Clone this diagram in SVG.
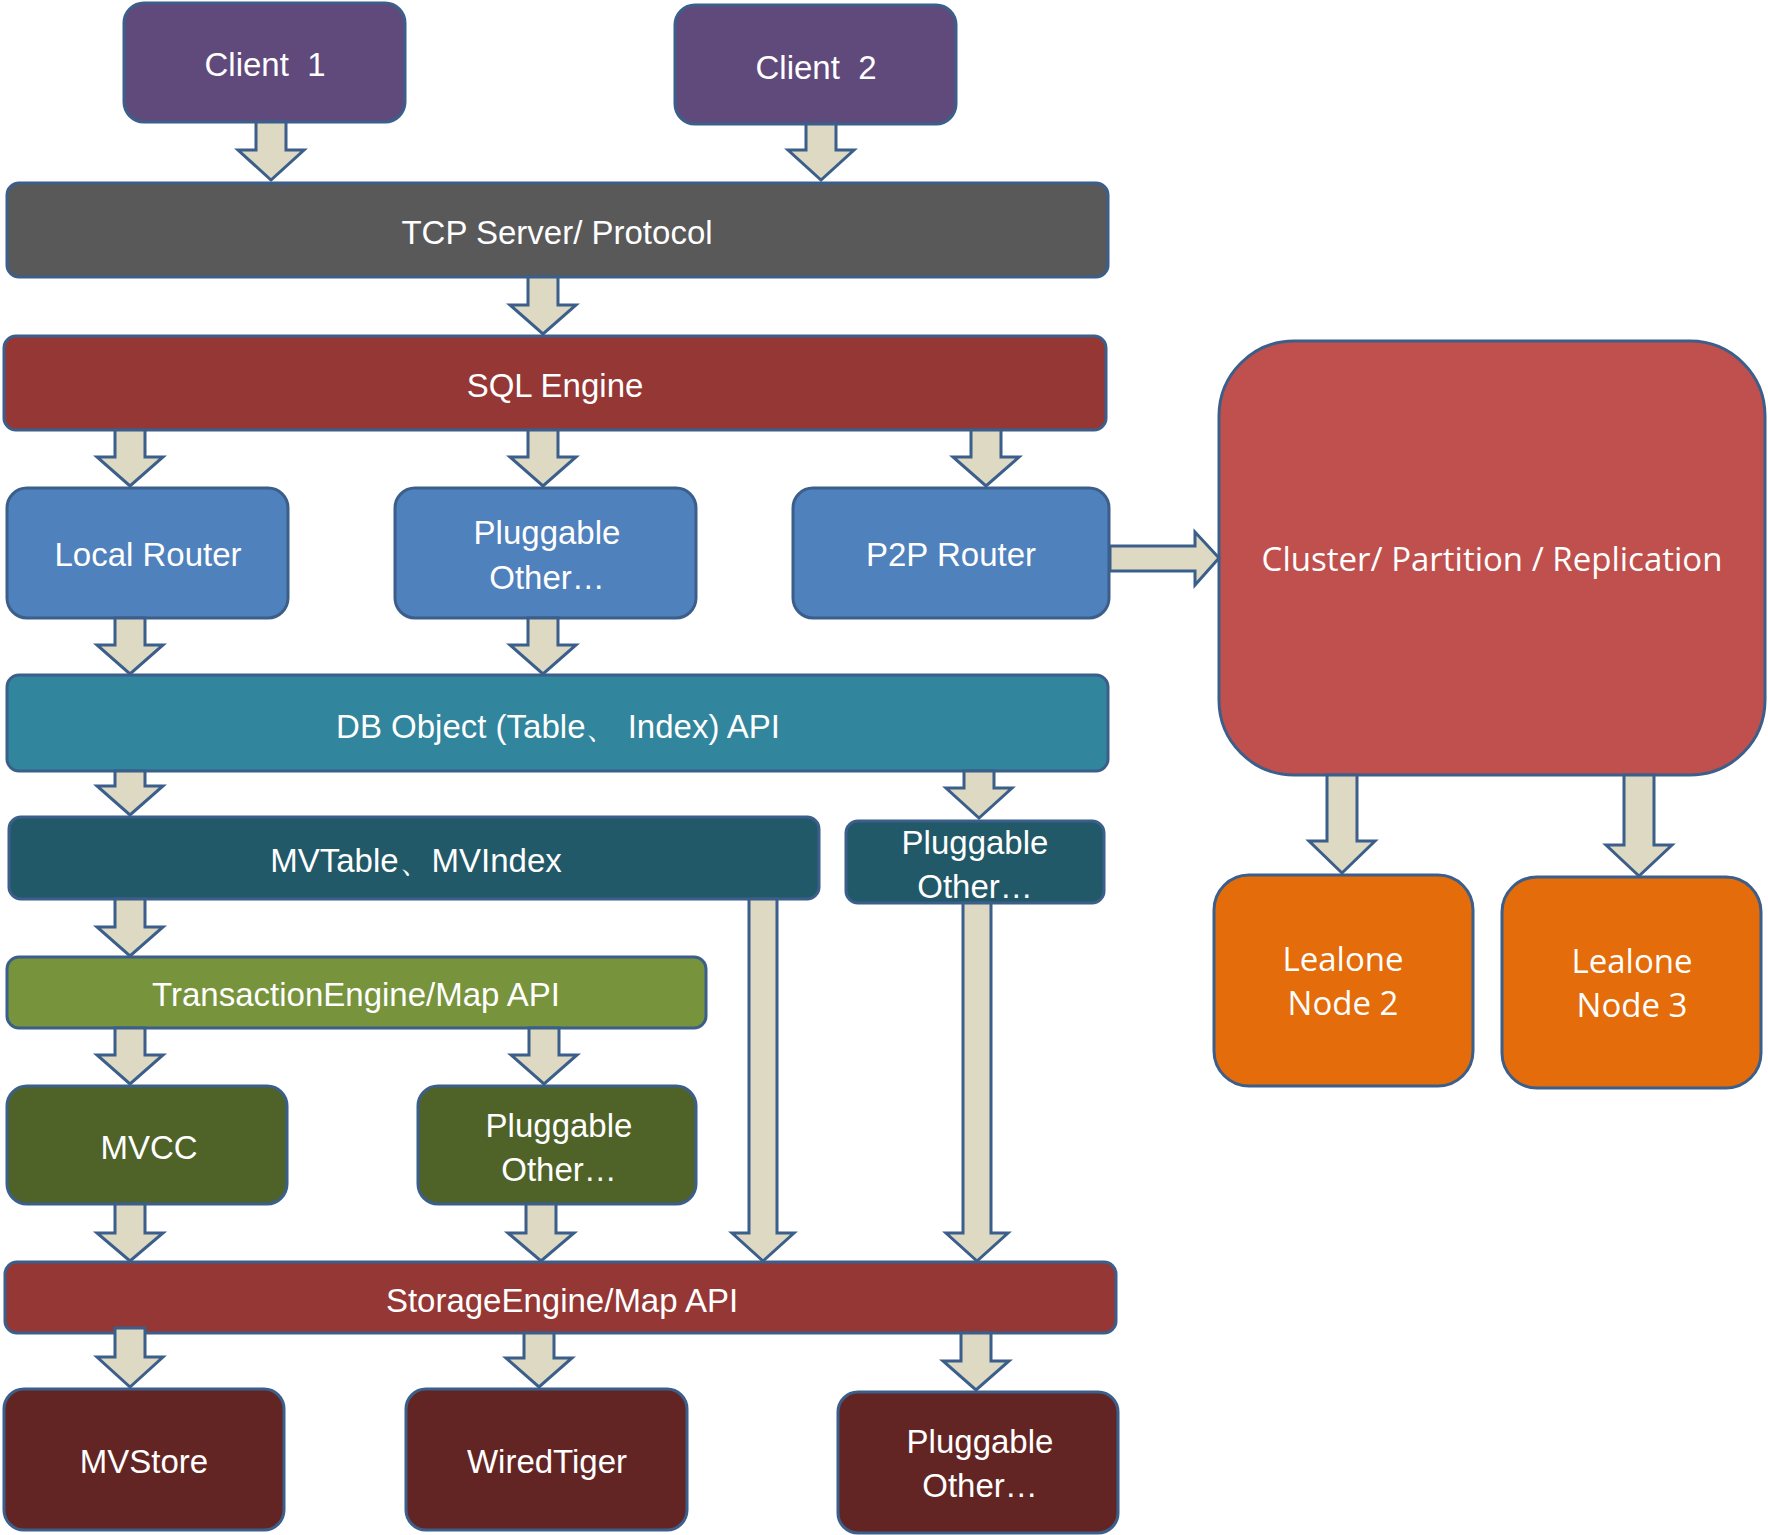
<svg xmlns="http://www.w3.org/2000/svg" width="1768" height="1535" viewBox="0 0 1768 1535">
<style>
.b{stroke:#3B5F8A;stroke-width:3}
.t{font-family:"Liberation Sans",Arial,sans-serif;font-size:33px;fill:#fff;text-anchor:middle;white-space:pre}
.s{font-family:"Open Sans","Noto Sans",sans-serif;font-size:33px;fill:#fff;text-anchor:middle}
.a{fill:#DDD9C3;stroke:#3B5F8A;stroke-width:3;stroke-linejoin:miter}
</style>
<rect width="1768" height="1535" fill="#fff"/>
<g id="client1"><rect class="b" x="124" y="3" width="281" height="119" rx="20" fill="#604A7B"/><text class="t" x="265" y="76">Client  1</text></g>
<g id="client2"><rect class="b" x="675" y="5" width="281" height="119" rx="20" fill="#604A7B"/><text class="t" x="816" y="79">Client  2</text></g>
<g id="tcp"><rect class="b" x="7" y="183" width="1101" height="94" rx="12" fill="#595959"/><text class="t" x="557" y="244">TCP Server/ Protocol</text></g>
<g id="sql"><rect class="b" x="4" y="336" width="1102" height="94" rx="12" fill="#953735"/><text class="t" x="555" y="397">SQL Engine</text></g>
<g id="localrouter"><rect class="b" x="7" y="488" width="281" height="130" rx="20" fill="#4F81BD"/><text class="t" x="148" y="566">Local Router</text></g>
<g id="pluggable1"><rect class="b" x="395" y="488" width="301" height="130" rx="20" fill="#4F81BD"/><text class="t" x="547" y="544">Pluggable</text><text class="t" x="547" y="589">Other…</text></g>
<g id="p2prouter"><rect class="b" x="793" y="488" width="316" height="130" rx="20" fill="#4F81BD"/><text class="t" x="951" y="566">P2P Router</text></g>
<g id="dbobject"><rect class="b" x="7" y="675" width="1101" height="96" rx="12" fill="#31859C"/><text class="t" x="558" y="738">DB Object (Table、 Index) API</text></g>
<g id="mvtable"><rect class="b" x="9" y="817" width="810" height="82" rx="12" fill="#215968"/><text class="t" x="416" y="872">MVTable、MVIndex</text></g>
<g id="pluggable2"><rect class="b" x="846" y="821" width="258" height="82" rx="12" fill="#215968"/><text class="t" x="975" y="854">Pluggable</text><text class="t" x="975" y="898">Other…</text></g>
<g id="transaction"><rect class="b" x="7" y="957" width="699" height="71" rx="12" fill="#77933C"/><text class="t" x="356" y="1006">TransactionEngine/Map API</text></g>
<g id="mvcc"><rect class="b" x="7" y="1086" width="280" height="118" rx="20" fill="#4F6228"/><text class="t" x="149" y="1159">MVCC</text></g>
<g id="pluggable3"><rect class="b" x="418" y="1086" width="278" height="118" rx="20" fill="#4F6228"/><text class="t" x="559" y="1137">Pluggable</text><text class="t" x="559" y="1181">Other…</text></g>
<g id="storage"><rect class="b" x="5" y="1262" width="1111" height="71" rx="12" fill="#953735"/><text class="t" x="562" y="1312">StorageEngine/Map API</text></g>
<g id="mvstore"><rect class="b" x="4" y="1389" width="280" height="141" rx="20" fill="#632523"/><text class="t" x="144" y="1473">MVStore</text></g>
<g id="wiredtiger"><rect class="b" x="406" y="1389" width="281" height="141" rx="20" fill="#632523"/><text class="t" x="547" y="1473">WiredTiger</text></g>
<g id="pluggable4"><rect class="b" x="838" y="1392" width="280" height="141" rx="20" fill="#632523"/><text class="t" x="980" y="1453">Pluggable</text><text class="t" x="980" y="1497">Other…</text></g>
<g id="cluster"><rect class="b" x="1219" y="341" width="546" height="434" rx="75" fill="#C0504D"/><text class="s" x="1492" y="571">Cluster/ Partition / Replication</text></g>
<g id="node2"><rect class="b" x="1214" y="875" width="259" height="211" rx="35" fill="#E46C0A"/><text class="s" x="1343" y="971">Lealone</text><text class="s" x="1343" y="1015">Node 2</text></g>
<g id="node3"><rect class="b" x="1502" y="877" width="259" height="211" rx="35" fill="#E46C0A"/><text class="s" x="1632" y="973">Lealone</text><text class="s" x="1632" y="1017">Node 3</text></g>
<g id="connectors">
<polygon class="a" points="256,122 286,122 286,150 304,150 271,180 238,150 256,150"/>
<polygon class="a" points="806,124 836,124 836,150 854,150 821,180 788,150 806,150"/>
<polygon class="a" points="528,277 558,277 558,305 576,305 543,334 510,305 528,305"/>
<polygon class="a" points="115,430 145,430 145,457 163,457 130,486 97,457 115,457"/>
<polygon class="a" points="528,430 558,430 558,457 576,457 543,486 510,457 528,457"/>
<polygon class="a" points="971,430 1001,430 1001,457 1019,457 986,486 953,457 971,457"/>
<polygon class="a" points="115,618 145,618 145,645 163,645 130,674 97,645 115,645"/>
<polygon class="a" points="528,618 558,618 558,645 576,645 543,674 510,645 528,645"/>
<polygon class="a" points="115,771 145,771 145,786 163,786 130,815 97,786 115,786"/>
<polygon class="a" points="964,771 994,771 994,788 1012,788 979,818 946,788 964,788"/>
<polygon class="a" points="115,899 145,899 145,927 163,927 130,956 97,927 115,927"/>
<polygon class="a" points="115,1028 145,1028 145,1055 163,1055 130,1084 97,1055 115,1055"/>
<polygon class="a" points="529,1028 559,1028 559,1055 577,1055 544,1084 511,1055 529,1055"/>
<polygon class="a" points="115,1204 145,1204 145,1233 163,1233 130,1261 97,1233 115,1233"/>
<polygon class="a" points="526,1204 556,1204 556,1233 574,1233 541,1261 508,1233 526,1233"/>
<polygon class="a" points="749,899 777,899 777,1233 794,1233 763,1261 732,1233 749,1233"/>
<polygon class="a" points="963,903 991,903 991,1233 1008,1233 977,1261 946,1233 963,1233"/>
<polygon class="a" points="115,1328 145,1328 145,1357 163,1357 130,1387 97,1357 115,1357"/>
<polygon class="a" points="524,1333 554,1333 554,1358 572,1358 539,1387 506,1358 524,1358"/>
<polygon class="a" points="961,1333 991,1333 991,1361 1009,1361 976,1390 943,1361 961,1361"/>
<polygon class="a" points="1327,775 1357,775 1357,841 1375,841 1342,873 1309,841 1327,841"/>
<polygon class="a" points="1624,775 1654,775 1654,845 1672,845 1639,876 1606,845 1624,845"/>
<polygon class="a" points="1110,546 1195,546 1195,532 1219,558 1195,585 1195,571 1110,571"/>
</g>
</svg>
